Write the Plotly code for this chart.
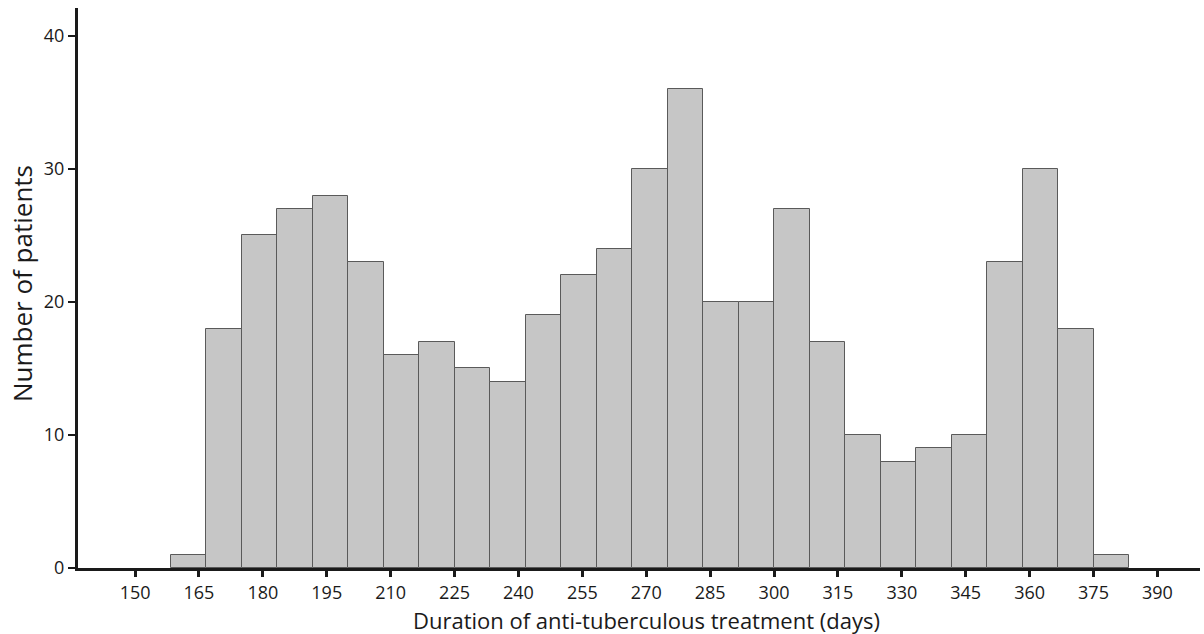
import plotly.graph_objects as go

bin_start = 150 + 25 / 3
bin_width = 25 / 3
counts = [1, 18, 25, 27, 28, 23, 16, 17, 15, 14, 19, 22, 24, 30, 36, 20, 20, 27,
          17, 10, 8, 9, 10, 23, 30, 18, 1]
x_ticks = list(range(150, 391, 15))
y_ticks = [0, 10, 20, 30, 40]

centers = [bin_start + bin_width * (i + 0.5) for i in range(len(counts))]

fig = go.Figure(go.Bar(
    x=centers, y=counts, width=bin_width,
    marker=dict(color="#c6c6c6", line=dict(color="#5a5a5a", width=1)),
))

font = "Open Sans, sans-serif"
fig.update_layout(
    width=1204, height=634,
    margin=dict(l=78, r=4, t=8, b=66, autoexpand=False),
    plot_bgcolor="white", paper_bgcolor="white",
    showlegend=False, bargap=0,
    font=dict(family=font, color="#1a1a1a", size=18),
    annotations=[
        dict(text="Duration of anti-tuberculous treatment (days)",
             xref="paper", yref="paper", x=(646 - 78) / 1122, y=-52 / 560,
             xanchor="center", yanchor="middle", showarrow=False,
             font=dict(size=22)),
        dict(text="Number of patients", textangle=-90,
             xref="paper", yref="paper", x=-56 / 1122, y=(567 - 283) / 560,
             xanchor="center", yanchor="middle", showarrow=False,
             font=dict(size=26)),
    ],
)
fig.update_xaxes(
    range=[136.6, 400], tickmode="array", tickvals=x_ticks,
    ticktext=[str(t) for t in x_ticks], automargin=False,
    showline=True, linecolor="#1a1a1a", linewidth=3,
    ticks="outside", ticklen=6, tickwidth=3, tickcolor="#1a1a1a",
    showgrid=False, zeroline=False,
)
fig.update_yaxes(
    range=[0, 42.1], tickmode="array", tickvals=y_ticks,
    ticktext=[str(t) for t in y_ticks], automargin=False,
    showline=True, linecolor="#1a1a1a", linewidth=3,
    ticks="outside", ticklen=7, tickwidth=2, tickcolor="#1a1a1a",
    showgrid=False, zeroline=False,
)
fig.write_html(
    "out.html",
    config={"displayModeBar": False},
    post_script="document.body.style.margin='0';document.body.style.overflow='hidden';",
)
